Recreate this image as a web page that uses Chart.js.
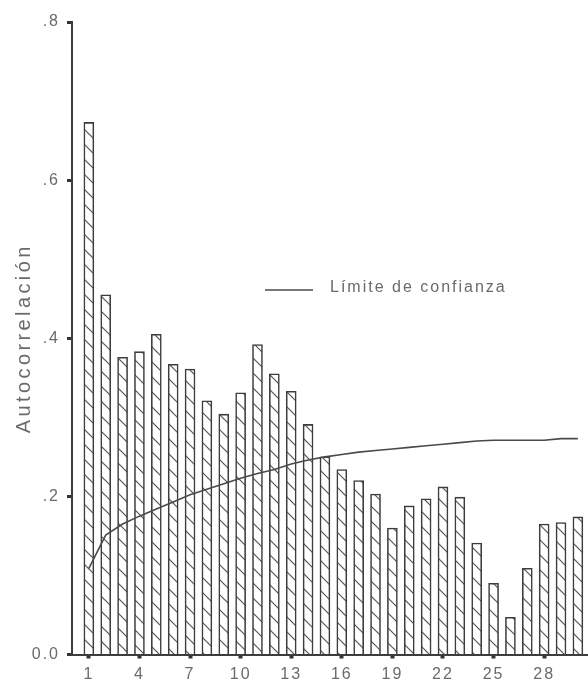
<!DOCTYPE html>
<html>
<head>
<meta charset="utf-8">
<script src="https://cdn.jsdelivr.net/npm/chart.js@4.4.1/dist/chart.umd.min.js"></script>
<style>
  html, body { margin: 0; padding: 0; background: #ffffff; }
  #wrap { width: 588px; height: 686px; position: relative; }
</style>
</head>
<body>
<div id="wrap"><canvas id="acfChart"></canvas></div>
<script>
// Lags of the autocorrelation function
const lags = [1, 2, 3, 4, 5, 6, 7, 8, 9, 10, 11, 12, 13, 14, 15,
              16, 17, 18, 19, 20, 21, 22, 23, 24, 25, 26, 27, 28, 29, 30];

// Autocorrelation coefficient per lag
const acf = [0.673, 0.455, 0.376, 0.383, 0.405, 0.367, 0.361, 0.321, 0.304, 0.331,
             0.392, 0.355, 0.333, 0.291, 0.250, 0.234, 0.220, 0.203, 0.160, 0.188,
             0.197, 0.212, 0.199, 0.141, 0.090, 0.047, 0.109, 0.165, 0.167, 0.174];

// Upper confidence limit per lag
const confLimit = [0.109, 0.151, 0.165, 0.175, 0.184, 0.193, 0.202, 0.209, 0.216, 0.223,
                   0.229, 0.234, 0.241, 0.246, 0.250, 0.253, 0.256, 0.258, 0.260, 0.262,
                   0.264, 0.266, 0.268, 0.270, 0.271, 0.271, 0.271, 0.271, 0.273, 0.273];

// Axis ticks
const xTickValues = [1, 4, 7, 10, 13, 16, 19, 22, 25, 28];
const yTickValues = [0, 0.2, 0.4, 0.6, 0.8];
const yTickLabels = ['0.0', '.2', '.4', '.6', '.8'];

const yTitle = 'Autocorrelación';
const limitLabel = 'Límite de confianza';

const FONT = '"Liberation Sans", Arial, sans-serif';
const TEXT_GREY = '#6a6a6a';
const INK = '#3d3d3d';

// Diagonal "\" hatch used to fill the bars
function makeHatch() {
  const size = 15;
  const c = document.createElement('canvas');
  c.width = size; c.height = size;
  const g = c.getContext('2d');
  g.fillStyle = '#ffffff';
  g.fillRect(0, 0, size, size);
  g.strokeStyle = '#555555';
  g.lineWidth = 1.2;
  for (const off of [-size, 0, size]) {
    g.beginPath();
    g.moveTo(off - 1, -1);
    g.lineTo(off + size + 1, size + 1);
    g.stroke();
  }
  return g.createPattern(c, 'repeat');
}

// Inline key for the confidence-limit line, plus text spacing
const keyPlugin = {
  id: 'limitKey',
  beforeDraw(chart) {
    const ctx = chart.ctx;
    ctx.letterSpacing = '2px';
    const ys = chart.scales.y;
    if (ys && !ys.__spaced) {
      const orig = ys.drawTitle;
      ys.drawTitle = function () {
        const prev = this.ctx.letterSpacing;
        this.ctx.letterSpacing = '3.4px';
        orig.call(this);
        this.ctx.letterSpacing = prev;
      };
      ys.__spaced = true;
    }
  },
  afterDraw(chart) {
    const ctx = chart.ctx;
    const ds = chart.data.datasets[0];
    ctx.save();
    ctx.strokeStyle = ds.borderColor;
    ctx.lineWidth = ds.borderWidth;
    ctx.beginPath();
    ctx.moveTo(265, 290);
    ctx.lineTo(313, 290);
    ctx.stroke();
    ctx.letterSpacing = '2px';
    ctx.fillStyle = TEXT_GREY;
    ctx.font = '16px ' + FONT;
    ctx.textAlign = 'left';
    ctx.textBaseline = 'middle';
    ctx.fillText(ds.label, 330, 288);
    ctx.restore();
  }
};

new Chart(document.getElementById('acfChart'), {
  type: 'bar',
  data: {
    datasets: [
      {
        type: 'line',
        label: limitLabel,
        data: lags.map((l, i) => ({ x: l, y: confLimit[i] })),
        borderColor: '#4a4a4a',
        borderWidth: 1.6,
        pointRadius: 0,
        tension: 0,
        fill: false,
        order: 0
      },
      {
        type: 'bar',
        label: yTitle,
        data: lags.map((l, i) => ({ x: l, y: acf[i] })),
        backgroundColor: makeHatch(),
        borderColor: INK,
        borderWidth: 1.6,
        borderSkipped: 'bottom',
        barThickness: 10,
        order: 1
      }
    ]
  },
  options: {
    responsive: true,
    maintainAspectRatio: false,
    animation: false,
    layout: { padding: { top: 22, right: 0, left: 0, bottom: 0 } },
    plugins: {
      legend: { display: false },
      tooltip: { enabled: false }
    },
    scales: {
      x: {
        type: 'linear',
        offset: false,
        min: 0,
        max: 30.6,
        afterBuildTicks(scale) {
          scale.ticks = xTickValues.map(v => ({ value: v }));
        },
        afterFit(scale) { scale.height = 31.5; },
        grid: {
          display: true,
          offset: false,
          drawOnChartArea: false,
          drawTicks: true,
          tickLength: 4,
          tickWidth: 4,
          tickColor: '#333333'
        },
        border: { display: true, color: INK, width: 2 },
        ticks: {
          autoSkip: false,
          maxRotation: 0,
          padding: 6,
          color: TEXT_GREY,
          font: { family: FONT, size: 16 },
          callback: (v) => String(v)
        }
      },
      y: {
        min: 0,
        max: 0.8,
        afterBuildTicks(scale) {
          scale.ticks = yTickValues.map(v => ({ value: v }));
        },
        afterFit(scale) { scale.width = 72; },
        grid: {
          display: true,
          drawOnChartArea: false,
          drawTicks: true,
          tickLength: 5,
          tickWidth: 3,
          tickColor: '#333333'
        },
        border: { display: true, color: INK, width: 2 },
        ticks: {
          padding: 7,
          color: TEXT_GREY,
          font: { family: FONT, size: 16 },
          callback: (v, i) => yTickLabels[i]
        },
        title: {
          display: true,
          text: yTitle,
          color: TEXT_GREY,
          font: { family: FONT, size: 20 },
          padding: { top: 12, bottom: 0 }
        }
      }
    }
  },
  plugins: [keyPlugin]
});
</script>
</body>
</html>
